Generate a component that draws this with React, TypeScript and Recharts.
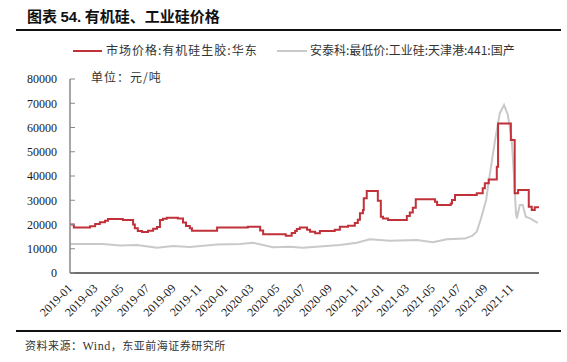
import React from "react";
import { LineChart, Line, XAxis, YAxis } from "recharts";

const tickLabels = [
  "2019-01", "2019-03", "2019-05", "2019-07", "2019-09", "2019-11",
  "2020-01", "2020-03", "2020-05", "2020-07", "2020-09", "2020-11",
  "2021-01", "2021-03", "2021-05", "2021-07", "2021-09", "2021-11",
];
const yTicks = [0, 10000, 20000, 30000, 40000, 50000, 60000, 70000, 80000];
const xStart = "2019-01-01";
const xEnd = "2022-01-05";

const redName = "市场价格:有机硅生胶:华东";
const grayName = "安泰科:最低价:工业硅:天津港:441:国产";

const redDates = [
  "2019-01-01", "2019-01-10", "2019-02-17", "2019-03-01", "2019-03-12", "2019-03-24", "2019-03-31",
  "2019-05-05", "2019-05-29", "2019-06-02", "2019-06-09", "2019-06-19", "2019-07-03", "2019-07-15",
  "2019-07-24", "2019-07-31", "2019-08-07", "2019-08-16", "2019-09-11", "2019-09-23", "2019-09-30",
  "2019-10-09", "2019-10-14", "2019-12-12", "2020-02-22", "2020-03-22", "2020-03-29", "2020-05-21",
  "2020-06-04", "2020-06-12", "2020-06-16", "2020-06-23", "2020-07-10", "2020-07-17", "2020-07-29",
  "2020-08-09", "2020-09-13", "2020-09-25", "2020-10-14", "2020-10-30", "2020-11-06", "2020-11-11",
  "2020-11-18", "2020-11-20", "2020-11-27", "2020-12-23", "2020-12-30", "2021-01-04", "2021-01-16",
  "2021-03-01", "2021-03-08", "2021-03-15", "2021-03-22", "2021-05-06", "2021-05-11", "2021-06-12",
  "2021-06-15", "2021-06-22", "2021-08-12", "2021-08-26", "2021-08-31", "2021-09-09", "2021-09-28",
  "2021-10-01", "2021-10-31", "2021-11-09", "2021-11-17", "2021-12-12", "2021-12-19", "2021-12-26",
  "2022-01-05",
];
const redValues = [
  20000, 18800, 19300, 20200, 20900, 21500, 22300,
  21900, 20000, 18500, 17300, 16900, 17400, 18200,
  19000, 21900, 22400, 22800, 22500, 20800, 19400,
  18500, 17400, 18800, 19100, 17500, 16000, 15400,
  16500, 17300, 18100, 18800, 17800, 17000, 16400,
  17300, 17800, 19100, 19500, 20600, 22000, 24600,
  26000, 30800, 33800, 29800, 23200, 22500, 21900,
  23500, 24900, 26900, 30400, 29400, 28000, 28700,
  30100, 32200, 32900, 34900, 37000, 38600, 43800,
  61700, 54800, 32900, 34200, 27300, 26000, 27100,
  27100,
];

const grayDates = [
  "2019-01-01", "2019-03-19", "2019-04-28", "2019-06-07", "2019-07-24", "2019-08-31", "2019-10-09",
  "2019-12-12", "2020-02-04", "2020-03-05", "2020-04-21", "2020-05-31", "2020-06-30", "2020-09-25",
  "2020-11-04", "2020-12-04", "2021-01-20", "2021-03-25", "2021-05-01", "2021-06-03", "2021-07-15",
  "2021-08-01", "2021-08-12", "2021-08-22", "2021-09-03", "2021-09-12", "2021-09-24", "2021-10-05",
  "2021-10-15", "2021-10-24", "2021-11-02", "2021-11-07", "2021-11-12", "2021-11-14", "2021-11-21",
  "2021-11-28", "2021-12-05", "2021-12-15", "2022-01-02",
];
const grayValues = [
  12000, 12000, 11300, 11500, 10400, 11100, 10700,
  11800, 12000, 12500, 10600, 10800, 10400, 11500,
  12500, 13900, 13300, 13600, 12700, 13900, 14200,
  15300, 17000, 22500, 30100, 41100, 54800, 65900,
  69300, 65200, 54800, 41200, 24600, 22500, 28000,
  28000, 23200, 22500, 20700,
];

const toT = (d: string) => {
  const [y, m, dd] = d.split("-").map(Number);
  return Date.UTC(y, m - 1, dd);
};

const redData = redDates.map((d, i) => ({ t: toT(d), v: redValues[i] }));
const grayData = grayDates.map((d, i) => ({ t: toT(d), v: grayValues[i] }));
const xTicks = tickLabels.map((l) => toT(l + "-01"));
const labelFor = (t: number) => {
  const i = xTicks.indexOf(t);
  return i >= 0 ? tickLabels[i] : "";
};

const RED = "#c0313a";
const GRAY = "#c9c9c9";
const CJK = '"Noto Sans CJK SC", "Noto Sans", sans-serif';
const SERIF = '"Liberation Serif", "DejaVu Serif", serif';

const XTick = (props: any) => {
  const { x, y, payload } = props;
  const ax = x + 3;
  const ay = y + 16;
  return (
    <text
      x={ax}
      y={ay}
      transform={`rotate(-45 ${ax} ${ay})`}
      textAnchor="end"
      fontFamily={SERIF}
      fontSize={12}
      fill="#1a1a1a"
    >
      {labelFor(payload.value)}
    </text>
  );
};

export default function App() {
  return (
    <div
      style={{
        position: "absolute",
        left: 0,
        top: 0,
        width: 567,
        height: 362,
        background: "#fff",
        overflow: "hidden",
      }}
    >
      <div
        style={{
          position: "absolute",
          left: 27,
          top: 6,
          fontFamily: CJK,
          fontWeight: 700,
          fontSize: 15,
          lineHeight: "20px",
          color: "#111",
          whiteSpace: "nowrap",
        }}
      >
        图表 <span style={{ fontFamily: '"Liberation Sans", Arial, sans-serif' }}>54.</span> 有机硅、工业硅价格
      </div>
      <div style={{ position: "absolute", left: 16, top: 29, width: 545, height: 2, background: "#111" }} />

      {/* legend */}
      <div style={{ position: "absolute", left: 73, top: 50, width: 29, height: 2, background: RED }} />
      <div
        style={{
          position: "absolute",
          left: 106,
          top: 42,
          fontFamily: CJK,
          fontSize: 12,
          lineHeight: "16px",
          color: "#333",
          letterSpacing: 1,
          whiteSpace: "nowrap",
        }}
      >
        {redName}
      </div>
      <div style={{ position: "absolute", left: 277, top: 50, width: 30, height: 2, background: GRAY }} />
      <div
        style={{
          position: "absolute",
          left: 310,
          top: 42,
          fontFamily: CJK,
          fontSize: 12,
          lineHeight: "16px",
          color: "#333",
          whiteSpace: "nowrap",
        }}
      >
        {grayName}
      </div>
      <div
        style={{
          position: "absolute",
          left: 91,
          top: 69,
          fontFamily: CJK,
          fontSize: 12,
          lineHeight: "16px",
          color: "#333",
          letterSpacing: 1,
          whiteSpace: "nowrap",
        }}
      >
        单位：元/吨
      </div>

      <div style={{ position: "absolute", left: 0, top: 0 }}>
        <LineChart
          width={567}
          height={362}
          margin={{ top: 79, right: 28, bottom: 59, left: 10 }}
        >
          <XAxis
            dataKey="t"
            type="number"
            domain={[toT(xStart), toT(xEnd)]}
            ticks={xTicks}
            tick={<XTick />}
            tickLine={false}
            tickSize={0}
            tickMargin={0}
            interval={0}
            height={30}
            axisLine={{ stroke: "#404040", strokeWidth: 1.5 }}
            allowDataOverflow
          />
          <YAxis
            type="number"
            domain={[0, 80000]}
            ticks={yTicks}
            interval={0}
            width={60}
            tickSize={-5}
            tickMargin={18}
            tickLine={{ stroke: "#888" }}
            axisLine={{ stroke: "#8a8a8a", strokeWidth: 1.5 }}
            tick={{ fontFamily: SERIF, fontSize: 12, fill: "#1a1a1a" }}
          />
          <Line
            data={grayData}
            dataKey="v"
            type="linear"
            stroke={GRAY}
            strokeWidth={2}
            dot={false}
            isAnimationActive={false}
          />
          <Line
            data={redData}
            dataKey="v"
            type="stepAfter"
            stroke={RED}
            strokeWidth={2}
            dot={false}
            isAnimationActive={false}
          />
        </LineChart>
      </div>

      <div style={{ position: "absolute", left: 16, top: 330, width: 545, height: 2, background: "#111" }} />
      <div
        style={{
          position: "absolute",
          left: 25,
          top: 337,
          fontFamily: CJK,
          fontSize: 11,
          lineHeight: "16px",
          color: "#333",
          letterSpacing: 0.5,
          whiteSpace: "nowrap",
        }}
      >
        资料来源：<span style={{ fontFamily: SERIF, fontSize: 12 }}>Wind</span>，东亚前海证券研究所
      </div>
    </div>
  );
}
